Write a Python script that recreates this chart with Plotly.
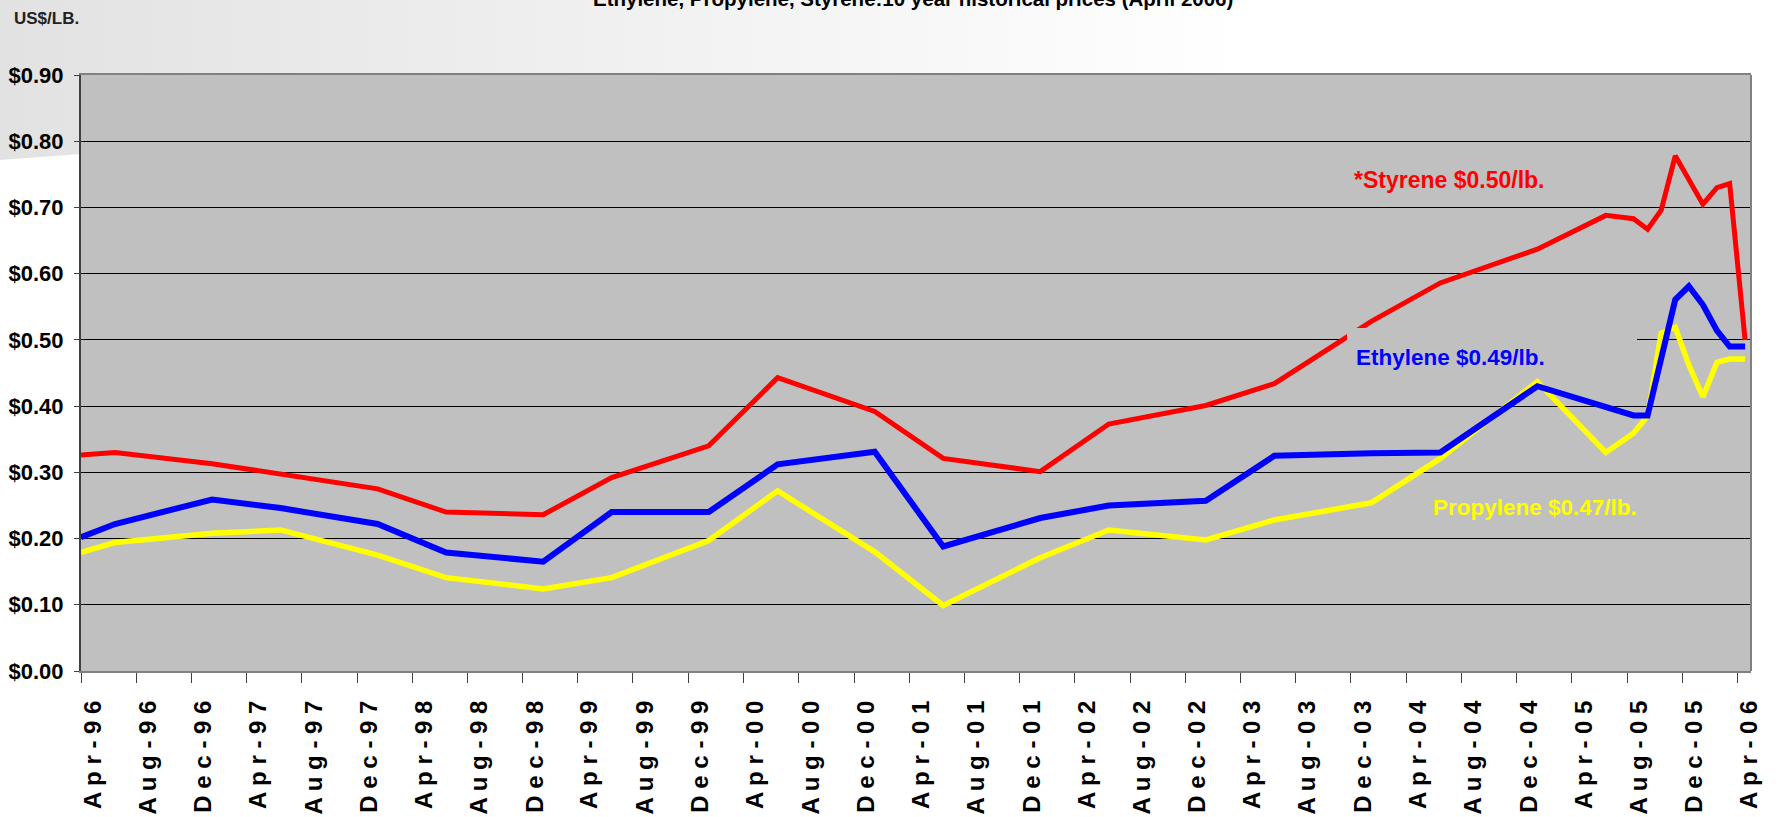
import base64
import pandas as pd
import plotly.graph_objects as go

# sample dates (mid-month readings, start of the series on the axis origin)
dates = ['1996-04-01', '1996-06-15', '1997-01-15', '1997-06-15', '1998-01-15',
         '1998-06-15', '1999-01-15', '1999-06-15', '2000-01-15', '2000-06-15',
         '2001-01-15', '2001-06-15', '2002-01-15', '2002-06-15', '2003-01-15',
         '2003-06-15', '2004-01-15', '2004-06-15', '2005-01-15', '2005-06-15',
         '2005-08-15', '2005-09-15', '2005-10-15', '2005-11-15', '2005-12-15',
         '2006-01-15', '2006-02-15', '2006-03-15', '2006-04-18']

styrene = [0.326, 0.330, 0.313, 0.297, 0.275, 0.240, 0.236, 0.292, 0.340, 0.443,
           0.392, 0.321, 0.301, 0.373, 0.401, 0.434, 0.528, 0.586, 0.637, 0.688,
           0.683, 0.667, 0.696, 0.778, 0.743, 0.705, 0.730, 0.736, 0.500]

ethylene = [0.202, 0.222, 0.259, 0.246, 0.222, 0.179, 0.165, 0.240, 0.240, 0.312,
            0.331, 0.188, 0.231, 0.250, 0.257, 0.325, 0.329, 0.330, 0.430, 0.397,
            0.386, 0.386, 0.472, 0.561, 0.581, 0.553, 0.514, 0.490, 0.490]

propylene = [0.179, 0.194, 0.208, 0.213, 0.175, 0.141, 0.124, 0.141, 0.197, 0.272,
             0.180, 0.099, 0.171, 0.213, 0.198, 0.228, 0.254, 0.321, 0.437, 0.330,
             0.359, 0.385, 0.510, 0.519, 0.462, 0.414, 0.466, 0.471, 0.471]

tick_labels = ['Apr-96', 'Aug-96', 'Dec-96', 'Apr-97', 'Aug-97', 'Dec-97', 'Apr-98',
               'Aug-98', 'Dec-98', 'Apr-99', 'Aug-99', 'Dec-99', 'Apr-00', 'Aug-00',
               'Dec-00', 'Apr-01', 'Aug-01', 'Dec-01', 'Apr-02', 'Aug-02', 'Dec-02',
               'Apr-03', 'Aug-03', 'Dec-03', 'Apr-04', 'Aug-04', 'Dec-04', 'Apr-05',
               'Aug-05', 'Dec-05', 'Apr-06']

W, H = 1783, 817
L, R, T, B = 81, 32, 75, 146
PW, PH = W - L - R, H - T - B

SANS = 'Liberation Sans, Arial, sans-serif'


def px_x(px):
    return (px - L) / PW


def px_y(py):
    return 1 - (py - T) / PH


tick_vals = pd.to_datetime(tick_labels, format='%b-%y')
tick_text = [' '.join(s) for s in tick_labels]

fig = go.Figure()
for name, vals, color, width in [('Propylene', propylene, '#FFFF00', 5.5),
                                 ('Ethylene', ethylene, '#0000FF', 6),
                                 ('Styrene', styrene, '#FF0000', 5)]:
    fig.add_trace(go.Scatter(x=dates, y=vals, mode='lines', name=name,
                             line=dict(color=color, width=width),
                             showlegend=False))

# light grey band across the top of the page
svg = (f"<svg xmlns='http://www.w3.org/2000/svg' width='{W}' height='{H}' "
       f"viewBox='0 0 {W} {H}' preserveAspectRatio='none'><defs>"
       "<linearGradient id='g' x1='0' y1='0' x2='1' y2='0'>"
       "<stop offset='0' stop-color='#e2e2e2'/><stop offset='0.7' stop-color='#ffffff'/>"
       "</linearGradient></defs>"
       f"<polygon points='0,0 {W},0 {W},{T} {L},{T} {L},154 0,160' fill='url(#g)'/></svg>")
bg_src = 'data:image/svg+xml;base64,' + base64.b64encode(svg.encode()).decode()

fig.update_layout(
    width=W, height=H, autosize=False,
    margin=dict(l=L, r=R, t=T, b=B, pad=0),
    paper_bgcolor='white', plot_bgcolor='#C0C0C0',
    images=[dict(source=bg_src, xref='paper', yref='paper',
                 x=-L / PW, y=1 + T / PH, sizex=W / PW, sizey=H / PH,
                 xanchor='left', yanchor='top', sizing='stretch', layer='below')],
    xaxis=dict(type='date', range=['1996-04-01', '2006-05-01'], automargin=False,
               tickvals=tick_vals, ticktext=tick_text, tickangle=-90,
               ticks='outside', ticklen=10, tickcolor='#404040', tickwidth=1,
               showgrid=False, zeroline=False,
               showline=True, linecolor='#808080', linewidth=2, mirror=True,
               tickfont=dict(family=SANS, size=24, color='black', weight='bold'),
               ticklabelshift=12, ticklabelstandoff=8),
    yaxis=dict(range=[0, 0.9], dtick=0.1, tick0=0, tickprefix='$', tickformat='.2f',
               automargin=False,
               showgrid=True, gridcolor='black', gridwidth=1, zeroline=False,
               showline=True, linecolor='#404040', linewidth=2,
               ticks='outside', ticklen=5, tickcolor='#404040',
               tickfont=dict(family=SANS, size=22, color='black', weight='bold'),
               ticklabelstandoff=6),
    shapes=[
        dict(type='line', xref='paper', yref='paper', x0=1, x1=1, y0=0, y1=1,
             line=dict(color='#808080', width=2)),
        # the grey text box behind the Ethylene label
        dict(type='rect', xref='paper', yref='paper', layer='above',
             x0=px_x(1347), x1=px_x(1637), y0=px_y(376), y1=px_y(328),
             fillcolor='#C0C0C0', line=dict(width=0)),
    ],
    annotations=[
        dict(text='Ethylene, Propylene, Styrene:10 year historical prices (April 2006)',
             xref='paper', yref='paper', x=px_x(913), y=px_y(12),
             xanchor='center', yanchor='bottom', showarrow=False,
             font=dict(family=SANS, size=20.5, color='black', weight='bold')),
        dict(text='US$/LB.',
             xref='paper', yref='paper', x=px_x(12), y=px_y(19),
             xanchor='left', yanchor='middle', showarrow=False,
             font=dict(family=SANS, size=17, color='#222222', weight='bold')),
        dict(text='*Styrene $0.50/lb.', xref='paper', yref='paper',
             x=px_x(1352), y=px_y(180), xanchor='left', yanchor='middle', showarrow=False,
             font=dict(family=SANS, size=23, color='#FF0000', weight='bold')),
        dict(text='Ethylene $0.49/lb.', xref='paper', yref='paper',
             x=px_x(1354), y=px_y(357), xanchor='left', yanchor='middle', showarrow=False,
             font=dict(family=SANS, size=22.5, color='#0000FF', weight='bold')),
        dict(text='Propylene $0.47/lb.', xref='paper', yref='paper',
             x=px_x(1431), y=px_y(507), xanchor='left', yanchor='middle', showarrow=False,
             font=dict(family=SANS, size=22.5, color='#FFFF00', weight='bold')),
    ],
)

# the page's default body margin would shift the whole figure by 8px
fig.write_html('out.html', config={'displayModeBar': False},
               post_script="document.body.style.margin='0';")
